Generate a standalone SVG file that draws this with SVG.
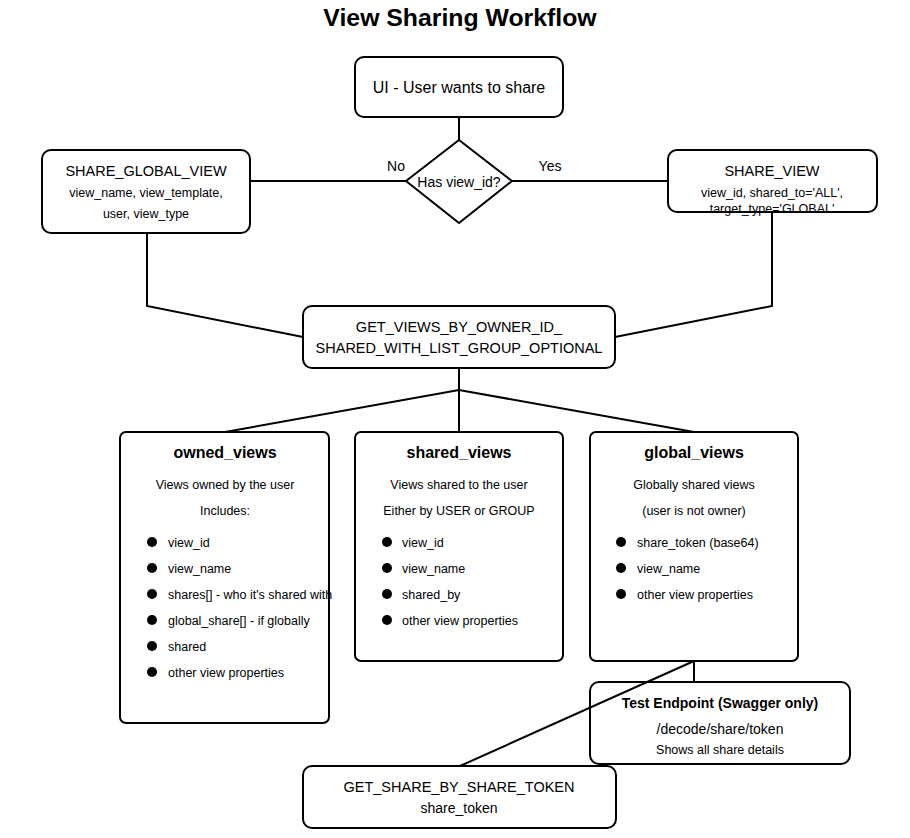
<svg xmlns="http://www.w3.org/2000/svg" width="910" height="838" viewBox="0 0 910 838">
<style>
  .box { fill: #ffffff; stroke: #000000; stroke-width: 2; }
  .edge { fill: none; stroke: #000000; stroke-width: 2; }
  text { font-family: "Liberation Sans", Arial, sans-serif; fill: #000000; dominant-baseline: central; }
  .c { text-anchor: middle; }
  .l { text-anchor: start; }
  .t145 { font-size: 14.5px; }
  .t14 { font-size: 14px; }
  .t125 { font-size: 12.5px; }
  .hb { font-size: 16px; font-weight: bold; }
  .dot { fill: #000000; }
</style>
<rect width="910" height="838" fill="#ffffff"/>
<text x="460" y="17" class="c" style="font-size:24.8px;font-weight:bold">View Sharing Workflow</text>

<g id="ui">
  <rect class="box" x="355" y="57" width="208" height="60" rx="9"/>
  <text x="459" y="87" class="c" style="font-size:16px">UI - User wants to share</text>
</g>

<g id="decision">
  <polygon class="box" points="459,140 512,181 459,223 406,181"/>
  <text x="459" y="182" class="c t14">Has view_id?</text>
</g>

<g id="share_global_view">
  <rect class="box" x="42" y="150" width="208" height="83" rx="9"/>
  <text x="146" y="171" class="c t145">SHARE_GLOBAL_VIEW</text>
  <text x="146" y="193" class="c t125">view_name, view_template,</text>
  <text x="146" y="214" class="c t125">user, view_type</text>
</g>

<g id="share_view">
  <rect x="668" y="150" width="209" height="62" rx="9" fill="#ffffff"/>
  <text x="772" y="171" class="c t145">SHARE_VIEW</text>
  <text x="772" y="193" class="c t125">view_id, shared_to='ALL',</text>
  <text x="772" y="209" class="c t125">target_type='GLOBAL'</text>
  <rect x="668" y="150" width="209" height="62" rx="9" fill="none" stroke="#000000" stroke-width="2"/>
</g>

<g id="get_views">
  <rect class="box" x="303" y="306" width="312" height="62" rx="9"/>
  <text x="459" y="327" class="c t145">GET_VIEWS_BY_OWNER_ID_</text>
  <text x="459" y="348" class="c t145">SHARED_WITH_LIST_GROUP_OPTIONAL</text>
</g>

<g id="owned_views">
  <rect class="box" x="120" y="432" width="209" height="291" rx="6"/>
  <text x="225" y="452" class="c hb">owned_views</text>
  <text x="225" y="485" class="c t125">Views owned by the user</text>
  <text x="225" y="511" class="c t125">Includes:</text>
  <circle class="dot" cx="152" cy="542" r="5"/><text x="168" y="543" class="l t125">view_id</text>
  <circle class="dot" cx="152" cy="568" r="5"/><text x="168" y="569" class="l t125">view_name</text>
  <circle class="dot" cx="152" cy="594" r="5"/><text x="168" y="595" class="l t125">shares[] - who it's shared with</text>
  <circle class="dot" cx="152" cy="620" r="5"/><text x="168" y="621" class="l t125">global_share[] - if globally</text>
  <circle class="dot" cx="152" cy="646" r="5"/><text x="168" y="647" class="l t125">shared</text>
  <circle class="dot" cx="152" cy="672" r="5"/><text x="168" y="673" class="l t125">other view properties</text>
</g>

<g id="shared_views">
  <rect class="box" x="355" y="432" width="208" height="229" rx="6"/>
  <text x="459" y="452" class="c hb">shared_views</text>
  <text x="459" y="485" class="c t125">Views shared to the user</text>
  <text x="459" y="511" class="c t125">Either by USER or GROUP</text>
  <circle class="dot" cx="387" cy="542" r="5"/><text x="402" y="543" class="l t125">view_id</text>
  <circle class="dot" cx="387" cy="568" r="5"/><text x="402" y="569" class="l t125">view_name</text>
  <circle class="dot" cx="387" cy="594" r="5"/><text x="402" y="595" class="l t125">shared_by</text>
  <circle class="dot" cx="387" cy="620" r="5"/><text x="402" y="621" class="l t125">other view properties</text>
</g>

<g id="global_views">
  <rect class="box" x="590" y="432" width="208" height="229" rx="6"/>
  <text x="694" y="452" class="c hb">global_views</text>
  <text x="694" y="485" class="c t125">Globally shared views</text>
  <text x="694" y="511" class="c t125">(user is not owner)</text>
  <circle class="dot" cx="621" cy="542" r="5"/><text x="637" y="543" class="l t125">share_token (base64)</text>
  <circle class="dot" cx="621" cy="568" r="5"/><text x="637" y="569" class="l t125">view_name</text>
  <circle class="dot" cx="621" cy="594" r="5"/><text x="637" y="595" class="l t125">other view properties</text>
</g>

<g id="test_endpoint">
  <rect class="box" x="590" y="682" width="260" height="82" rx="9"/>
  <text x="720" y="703" class="c t14" style="font-weight:bold">Test Endpoint (Swagger only)</text>
  <text x="720" y="729" class="c t14">/decode/share/token</text>
  <text x="720" y="750" class="c t125">Shows all share details</text>
</g>

<g id="get_share_by_token">
  <rect class="box" x="303" y="766" width="313" height="62" rx="9"/>
  <text x="459" y="787" class="c t145">GET_SHARE_BY_SHARE_TOKEN</text>
  <text x="459" y="808" class="c t14">share_token</text>
</g>

<g id="connectors">
  <line class="edge" x1="459" y1="117" x2="459" y2="140"/>
  <line class="edge" x1="250" y1="181" x2="406" y2="181"/>
  <line class="edge" x1="512" y1="181" x2="668" y2="181"/>
  <polyline class="edge" points="147,233 147,306 303,337"/>
  <polyline class="edge" points="772,212 772,306 615,337"/>
  <line class="edge" x1="459" y1="368" x2="459" y2="432"/>
  <polyline class="edge" points="225,432 459,390 694,432"/>
  <line class="edge" x1="694" y1="661" x2="694" y2="682"/>
  <line class="edge" x1="694" y1="661" x2="460" y2="766"/>
  <text x="396" y="166" class="c t14">No</text>
  <text x="550" y="166" class="c t14">Yes</text>
</g>
</svg>
